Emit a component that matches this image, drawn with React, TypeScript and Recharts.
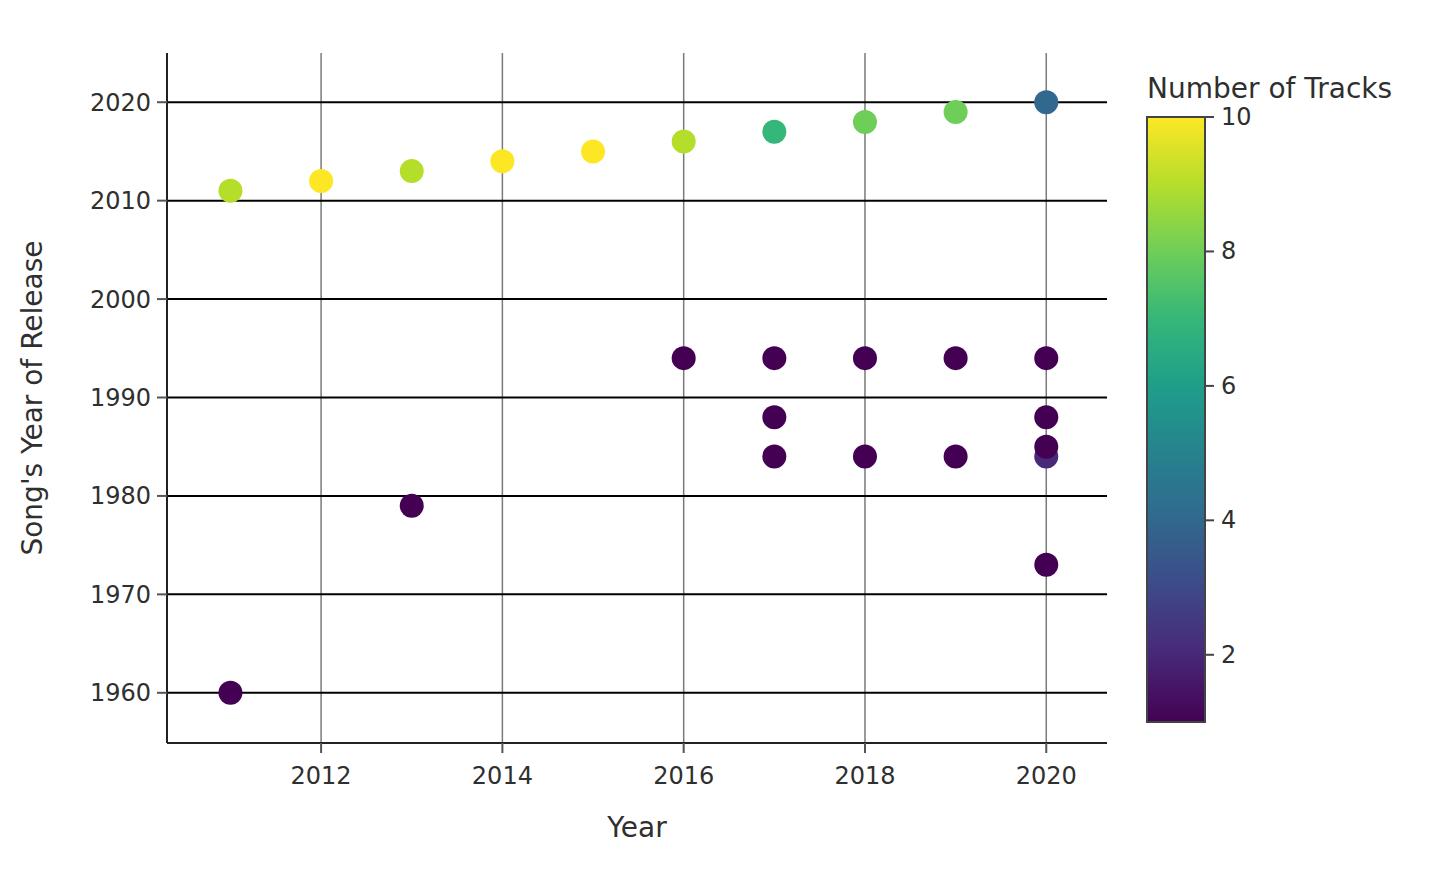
import React from 'react';
import { ScatterChart, Scatter, XAxis, YAxis, CartesianGrid } from 'recharts';

const years = [2011, 2011, 2012, 2013, 2013, 2014, 2015, 2016, 2016, 2017, 2017, 2017, 2017, 2018, 2018, 2018, 2019, 2019, 2019, 2020, 2020, 2020, 2020, 2020, 2020];
const releaseYears = [2011, 1960, 2012, 2013, 1979, 2014, 2015, 2016, 1994, 2017, 1994, 1988, 1984, 2018, 1994, 1984, 2019, 1994, 1984, 2020, 1994, 1988, 1984, 1985, 1973];
const trackCounts = [9, 1, 10, 9, 1, 10, 10, 9, 1, 7, 1, 1, 1, 8, 1, 1, 8, 1, 1, 4, 1, 1, 2, 1, 1];

const xTicks = [2012, 2014, 2016, 2018, 2020];
const yTicks = [1960, 1970, 1980, 1990, 2000, 2010, 2020];
const colorTicks = [2, 4, 6, 8, 10];
const colorMin = 1;
const colorMax = 10;

// viridis
const VIRIDIS = ['#440154', '#482878', '#3e4989', '#31688e', '#26828e', '#1f9e89', '#35b779', '#6ece58', '#b5de2b', '#fde725'];

const hexToRgb = (h: string) => [1, 3, 5].map((i) => parseInt(h.slice(i, i + 2), 16));

const viridis = (t: number) => {
  const p = Math.max(0, Math.min(1, t)) * (VIRIDIS.length - 1);
  const i = Math.min(Math.floor(p), VIRIDIS.length - 2);
  const f = p - i;
  const a = hexToRgb(VIRIDIS[i]);
  const b = hexToRgb(VIRIDIS[i + 1]);
  const c = a.map((v, k) => Math.round(v + (b[k] - v) * f));
  return `rgb(${c[0]},${c[1]},${c[2]})`;
};

const data = years.map((y, i) => ({
  year: y,
  release: releaseYears[i],
  tracks: trackCounts[i],
  color: viridis((trackCounts[i] - colorMin) / (colorMax - colorMin)),
}));

const FONT = 'DejaVu Sans, Verdana, sans-serif';
const TEXT = '#2f2f2f';

const W = 1435;
const H = 871;
const PLOT = { left: 167, right: 1107, top: 53, bottom: 743 };
const BAR = { x: 1147, w: 58, top: 117, bottom: 722 };

const Dot = (props: any) => {
  const { cx, cy, payload } = props;
  if (cx == null || cy == null) return null;
  return <circle cx={cx} cy={cy} r={12} fill={payload.color} />;
};

const ColorBar = () => {
  const scale = (v: number) => BAR.bottom - ((v - colorMin) / (colorMax - colorMin)) * (BAR.bottom - BAR.top);
  return (
    <svg width={W} height={H} style={{ position: 'absolute', left: 0, top: 0, pointerEvents: 'none' }}>
      <defs>
        <linearGradient id="viridis" x1="0" y1="1" x2="0" y2="0">
          {VIRIDIS.map((c, i) => (
            <stop key={c} offset={`${(i / (VIRIDIS.length - 1)) * 100}%`} stopColor={c} />
          ))}
        </linearGradient>
      </defs>
      <text x={637} y={837} textAnchor="middle" fontFamily={FONT} fontSize={28} fill={TEXT}>
        Year
      </text>
      <text
        x={42}
        y={398}
        textAnchor="middle"
        fontFamily={FONT}
        fontSize={28}
        fill={TEXT}
        transform="rotate(-90 42 398)"
      >
        Song's Year of Release
      </text>
      <text x={BAR.x} y={98} fontFamily={FONT} fontSize={28} fill={TEXT}>
        Number of Tracks
      </text>
      <rect x={BAR.x} y={BAR.top} width={BAR.w} height={BAR.bottom - BAR.top} fill="url(#viridis)" stroke="#444" strokeWidth={2} />
      {colorTicks.map((v) => (
        <g key={v}>
          <line x1={BAR.x + BAR.w} x2={BAR.x + BAR.w + 9} y1={scale(v)} y2={scale(v)} stroke="#444" strokeWidth={2} />
          <text x={BAR.x + BAR.w + 16} y={scale(v) + 8} fontFamily={FONT} fontSize={24} fill={TEXT}>
            {v}
          </text>
        </g>
      ))}
    </svg>
  );
};

export default function App() {
  return (
    <div style={{ position: 'absolute', left: 0, top: 0, width: W, height: H, background: '#fff' }}>
      <ScatterChart
        width={W}
        height={H}
        margin={{ top: PLOT.top, right: W - PLOT.right, bottom: H - PLOT.bottom - 60, left: PLOT.left - 100 }}
      >
        <CartesianGrid horizontal={false} vertical verticalValues={xTicks} stroke="#7a7a7a" strokeWidth={1.5} />
        <CartesianGrid horizontal vertical={false} horizontalValues={yTicks} stroke="#000" strokeWidth={2} />
        <XAxis
          type="number"
          dataKey="year"
          domain={[2010.3, 2020.67]}
          ticks={xTicks}
          height={60}
          allowDataOverflow
          stroke="#222"
          strokeWidth={2}
          tickSize={10}
          tickLine={{ stroke: '#555', strokeWidth: 2 }}
          tick={{ fontFamily: FONT, fontSize: 24, fill: TEXT, dy: 12 }}
        />
        <YAxis
          type="number"
          dataKey="release"
          domain={[1954.9, 2025]}
          ticks={yTicks}
          width={100}
          allowDataOverflow
          stroke="#222"
          strokeWidth={2}
          tickSize={10}
          tickLine={{ stroke: '#555', strokeWidth: 2 }}
          tick={{ fontFamily: FONT, fontSize: 24, fill: TEXT, dx: -4 }}
        />
        <Scatter data={data} shape={<Dot />} isAnimationActive={false} />
      </ScatterChart>
      <ColorBar />
    </div>
  );
}
